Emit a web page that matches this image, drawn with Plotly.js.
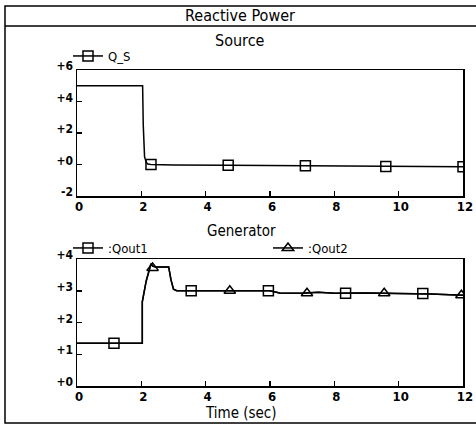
<!DOCTYPE html>
<html>
<head>
<meta charset="utf-8">
<script src="https://cdn.plot.ly/plotly-3.0.1.min.js"></script>
<style>
html,body{margin:0;padding:0;background:#fff;overflow:hidden;}
#chart{width:476px;height:426px;}
</style>
</head>
<body>
<div id="chart"></div>
<script>
// ---- data ----
var tSource = [0, 2.04, 2.06, 2.08, 2.1, 2.15, 2.2, 2.3, 3, 4.7, 6, 7.1, 8, 9.6, 11, 12];
var qS      = [5, 5, 2.5, 1.0, 0.5, 0.15, 0.03, 0, -0.03, -0.05, -0.06, -0.08, -0.1, -0.12, -0.14, -0.15];
var qSMarkT = [2.3, 4.7, 7.1, 9.6, 12];
var qSMarkV = [0, -0.05, -0.08, -0.12, -0.15];

var tGen  = [0, 2.03, 2.03, 2.1, 2.15, 2.3, 2.35, 2.45, 2.85, 2.92, 3.0, 3.1, 4, 5, 6, 6.3, 7, 7.5, 8, 9, 10, 11, 12];
var qout1 = [1.35, 1.35, 2.65, 3.0, 3.3, 3.85, 3.78, 3.75, 3.75, 3.35, 3.05, 3.0, 3.0, 3.0, 3.0, 2.93, 2.92, 2.95, 2.92, 2.93, 2.92, 2.9, 2.86];
var qout2 = [1.35, 1.35, 2.65, 3.0, 3.3, 3.85, 3.78, 3.75, 3.75, 3.35, 3.05, 3.0, 3.0, 3.0, 3.0, 2.93, 2.92, 2.95, 2.92, 2.93, 2.92, 2.9, 2.86];
var q1MarkT = [1.15, 3.55, 5.95, 8.35, 10.75];
var q1MarkV = [1.35, 3.0, 3.0, 2.92, 2.91];
var q2MarkT = [2.35, 4.75, 7.15, 9.55, 11.95];
var q2MarkV = [3.72, 3.0, 2.92, 2.92, 2.86];

var xTicks = [0, 2, 4, 6, 8, 10, 12];
var xTickText = ['0', '2', '4', '6', '8', '10', '12'];
var ySrcTicks = [-2, 0, 2, 4, 6];
var ySrcText = ['-2', '+0', '+2', '+4', '+6'];
var yGenTicks = [0, 1, 2, 3, 4];
var yGenText = ['+0', '+1', '+2', '+3', '+4'];

// ---- layout helpers ----
var W = 476, H = 426;
function px(x){ return x / W; }
function py(y){ return (H - y) / H; }
var FONT = '"Liberation Sans Narrow", "Arial Narrow", "DejaVu Sans Condensed", sans-serif';
var LW = 1.5;

var lineStyle = {color: '#000', width: LW};
var sq = {symbol: 'square-open', size: 10, color: '#000', line: {color: '#000', width: LW}};
var tri = {symbol: 'triangle-up-open', size: 10, color: '#000', line: {color: '#000', width: LW}};

var traces = [
  {x: tSource, y: qS, mode: 'lines', line: lineStyle, xaxis: 'x', yaxis: 'y', showlegend: false},
  {x: qSMarkT, y: qSMarkV, mode: 'markers', marker: sq, xaxis: 'x', yaxis: 'y', showlegend: false},
  {x: [null], y: [null], mode: 'lines+markers', line: lineStyle, marker: sq, name: 'Q_S', xaxis: 'x', yaxis: 'y', legend: 'legend'},

  {x: tGen, y: qout1, mode: 'lines', line: lineStyle, xaxis: 'x2', yaxis: 'y2', showlegend: false},
  {x: tGen, y: qout2, mode: 'lines', line: lineStyle, xaxis: 'x2', yaxis: 'y2', showlegend: false},
  {x: q1MarkT, y: q1MarkV, mode: 'markers', marker: sq, xaxis: 'x2', yaxis: 'y2', showlegend: false},
  {x: q2MarkT, y: q2MarkV, mode: 'markers', marker: tri, xaxis: 'x2', yaxis: 'y2', showlegend: false},
  {x: [null], y: [null], mode: 'lines+markers', line: lineStyle, marker: sq, name: ':Qout1', xaxis: 'x2', yaxis: 'y2', legend: 'legend2'},
  {x: [null], y: [null], mode: 'lines+markers', line: lineStyle, marker: tri, name: ':Qout2', xaxis: 'x2', yaxis: 'y2', legend: 'legend3'}
];

function xax(anchor){
  return {
    domain: [px(77), px(463)], anchor: anchor, range: [0, 12],
    tickvals: xTicks, ticktext: xTickText, ticks: 'inside', ticklen: 5, tickwidth: LW, tickcolor: '#000',
    showline: true, mirror: true, linecolor: '#000', linewidth: LW, showgrid: false, zeroline: false,
    tickfont: {family: FONT, size: 13, color: '#000', weight: 'bold'}, ticklabelstandoff: -2, ticklabelshift: 2, fixedrange: true
  };
}
function yax(anchor, d0, d1, r, tv, tt){
  return {
    domain: [py(d1), py(d0)], anchor: anchor, range: r,
    tickvals: tv, ticktext: tt, ticks: 'inside', ticklen: 5, tickwidth: LW, tickcolor: '#000',
    showline: true, mirror: true, linecolor: '#000', linewidth: LW, showgrid: false, zeroline: false,
    tickfont: {family: FONT, size: 12, color: '#000', weight: 'bold'}, ticklabelstandoff: 0, ticklabelshift: -4, fixedrange: true
  };
}

var legBase = {font: {family: FONT, size: 13, color: '#000'}, bgcolor: 'rgba(0,0,0,0)', borderwidth: 0,
  xanchor: 'left', yanchor: 'middle', orientation: 'h', itemwidth: 30, tracegroupgap: 0};

var layout = {
  width: W, height: H, margin: {l: 0, r: 0, t: 0, b: 0},
  paper_bgcolor: '#fff', plot_bgcolor: '#fff',
  title: {text: 'Reactive Power', font: {family: FONT, size: 16, color: '#000'}, x: px(240), xanchor: 'center', y: py(15), yanchor: 'middle', xref: 'paper', yref: 'paper'},
  xaxis: xax('y'), yaxis: yax('x', 70, 196, [-2, 6], ySrcTicks, ySrcText),
  xaxis2: xax('y2'), yaxis2: yax('x2', 259, 386, [0, 4], yGenTicks, yGenText),
  legend: Object.assign({}, legBase, {x: px(68), y: py(56)}),
  legend2: Object.assign({}, legBase, {x: px(68), y: py(248)}),
  legend3: Object.assign({}, legBase, {x: px(268), y: py(248)}),
  annotations: [
    {text: 'Source', xref: 'paper', yref: 'paper', x: px(240), y: py(41), showarrow: false, font: {family: FONT, size: 16, color: '#000'}, xanchor: 'center', yanchor: 'middle'},
    {text: 'Generator', xref: 'paper', yref: 'paper', x: px(241), y: py(231), showarrow: false, font: {family: FONT, size: 15, color: '#000'}, xanchor: 'center', yanchor: 'middle'},
    {text: 'Time (sec)', xref: 'paper', yref: 'paper', x: px(241), y: py(413), showarrow: false, font: {family: FONT, size: 15, color: '#000'}, xanchor: 'center', yanchor: 'middle'}
  ],
  shapes: [
    {type: 'rect', xref: 'paper', yref: 'paper', x0: px(5), x1: 1.2, y0: py(423), y1: py(6), line: {color: '#000', width: LW}, fillcolor: 'rgba(0,0,0,0)'},
    {type: 'line', xref: 'paper', yref: 'paper', x0: px(5), x1: 1.2, y0: py(26), y1: py(26), line: {color: '#000', width: LW}}
  ]
};

Plotly.newPlot('chart', traces, layout, {staticPlot: true, displayModeBar: false});
</script>
</body>
</html>
